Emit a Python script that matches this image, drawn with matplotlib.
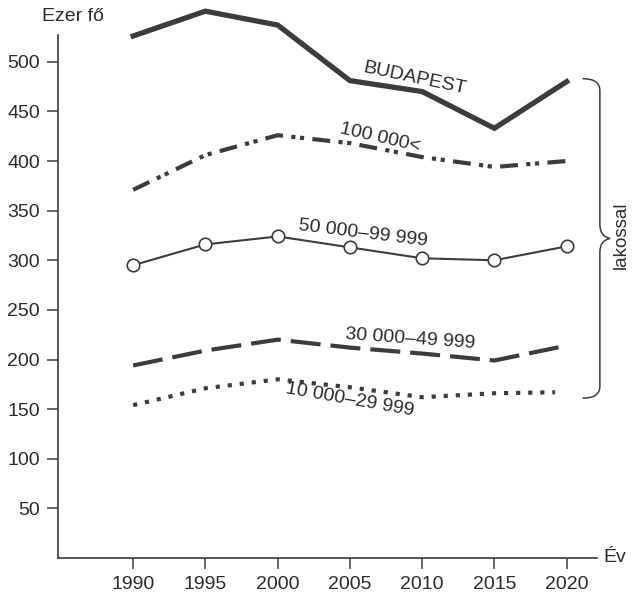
import matplotlib.pyplot as plt
from matplotlib.path import Path
from matplotlib.patches import PathPatch

years = [1990, 1995, 2000, 2005, 2010, 2015, 2020]
budapest = [526, 551, 537, 481, 470, 433, 480]
over_100k = [371, 406, 426, 418, 404, 394, 400]
from_50k = [295, 316, 324, 313, 302, 300, 314]
from_30k = [194, 209, 220, 212, 206, 199, 214]
from_10k = [154, 171, 180, 172, 162, 166, 167]

y_ticks = [50, 100, 150, 200, 250, 300, 350, 400, 450, 500]

line_col = '#3c3c3c'
text_col = '#2b2b2b'

plt.rcParams['font.family'] = ['Liberation Sans', 'DejaVu Sans']

fig = plt.figure(figsize=(6.32, 5.95), dpi=100)
ax = fig.add_axes([0.0918, 0.0622, 0.8528, 0.879])

ax.plot(years, budapest, color=line_col, lw=3.8, solid_joinstyle='miter',
        clip_on=False)
ax.plot(years, over_100k, color=line_col, lw=3.0, dash_capstyle='butt',
        dashes=(4.3, 2.0, 1.0, 1.1, 1.0, 2.0), clip_on=False)
ax.plot(years, from_50k, color=line_col, lw=1.5, marker='o', ms=9,
        mfc='white', mec=line_col, mew=1.2, clip_on=False)
ax.plot(years, from_30k, color=line_col, lw=3.0, dash_capstyle='butt',
        dashes=(7.2, 2.4), clip_on=False)
ax.plot(years[:-1] + [2019.2], from_10k, color=line_col, lw=3.0,
        dash_capstyle='butt', dashes=(1.0, 1.9), clip_on=False)

lbl = dict(color=text_col, fontsize=14, ha='center', va='center',
           rotation_mode='anchor')
ax.text(2009.5, 483, 'BUDAPEST', rotation=-12, **lbl)
ax.text(2007.1, 423, '100 000<', rotation=-13, **lbl)
ax.text(2005.9, 327, '50 000–99 999', rotation=-7, **lbl)
ax.text(2009.2, 221, '30 000–49 999', rotation=-4, **lbl)
ax.text(2005.0, 159, '10 000–29 999', rotation=-10, **lbl)

ax.set_xlim(1984.8, 2022.1)
ax.set_ylim(0, 527)
ax.set_xticks(years)
ax.set_yticks(y_ticks)
ax.tick_params(colors=line_col, labelcolor=text_col, labelsize=14,
               length=8, width=1.1, pad=5)
for side in ['top', 'right']:
    ax.spines[side].set_visible(False)
for side in ['left', 'bottom']:
    ax.spines[side].set_color(line_col)
    ax.spines[side].set_linewidth(1.2)

ax.text(-0.03, 1.02, 'Ezer fő', transform=ax.transAxes, fontsize=14,
        color=text_col, ha='left', va='bottom')
ax.text(1.012, 0.0, 'Év', transform=ax.transAxes, fontsize=14,
        color=text_col, ha='left', va='center')

# curly brace grouping the four size classes
top = budapest[-1] + 3
bot = from_10k[-1] - 6
mid = (top + bot) / 2
x0, x1, x2 = 2021.1, 2022.3, 2023.0
verts = [(x0, top), (x1, top), (x1, top - 12),
         (x1, mid + 14), (x1, mid + 2), (x2, mid),
         (x1, mid - 2), (x1, mid - 14),
         (x1, bot + 12), (x1, bot), (x0, bot)]
codes = [Path.MOVETO, Path.CURVE3, Path.CURVE3,
         Path.LINETO, Path.CURVE3, Path.CURVE3,
         Path.CURVE3, Path.CURVE3,
         Path.LINETO, Path.CURVE3, Path.CURVE3]
ax.add_patch(PathPatch(Path(verts, codes), fc='none', ec=line_col,
                       lw=1.1, clip_on=False))
ax.text(2023.75, mid + 3, 'lakossal', rotation=90, fontsize=13.5,
        color=text_col, ha='center', va='center')

fig.savefig('out.png', dpi=100)
